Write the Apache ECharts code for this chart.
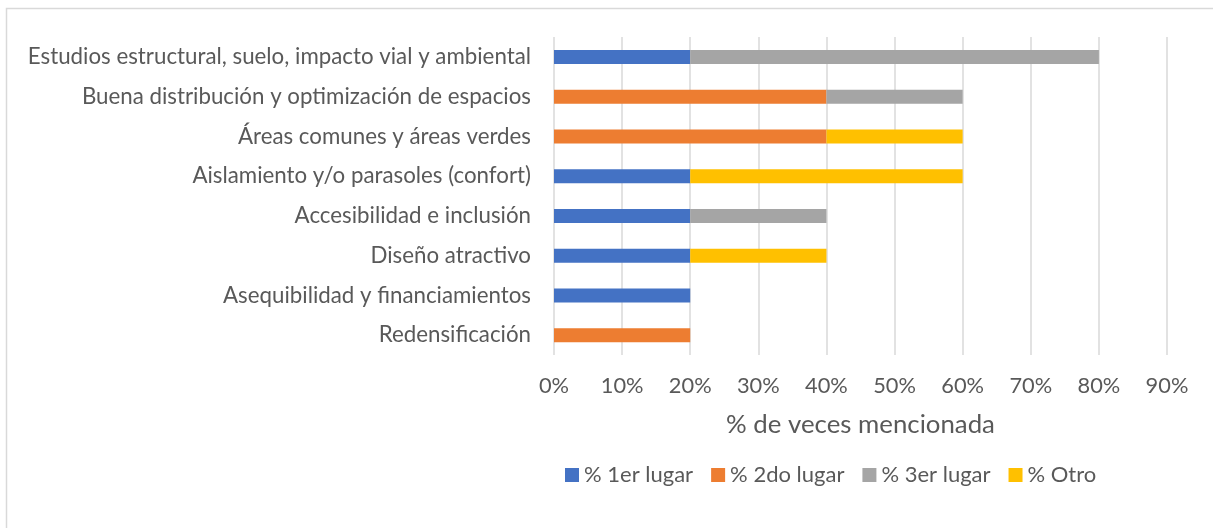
<!DOCTYPE html>
<html>
<head>
<meta charset="utf-8">
<script src="https://cdn.jsdelivr.net/npm/echarts@6/dist/echarts.min.js"></script>
<style>
  html, body { margin: 0; padding: 0; background: #fff; }
  #chart { width: 1213px; height: 528px; }
</style>
</head>
<body>
<div id="chart"></div>
<script>
// Aspects mentioned, listed top to bottom
const categories = [
  'Estudios estructural, suelo, impacto vial y ambiental',
  'Buena distribución y optimización de espacios',
  'Áreas comunes y áreas verdes',
  'Aislamiento y/o parasoles (confort)',
  'Accesibilidad e inclusión',
  'Diseño atractivo',
  'Asequibilidad y financiamientos',
  'Redensificación'
];
const seriesNames = ['% 1er lugar', '% 2do lugar', '% 3er lugar', '% Otro'];
// Share of mentions (%) per ranking position
const primerLugar = [20, 0, 0, 20, 20, 20, 20, 0];
const segundoLugar = [0, 40, 40, 0, 0, 0, 0, 20];
const tercerLugar = [60, 20, 0, 0, 20, 0, 0, 0];
const otro = [0, 0, 20, 40, 0, 20, 0, 0];
const axisTitle = '% de veces mencionada';

const colors = ['#4472C4', '#ED7D31', '#A5A5A5', '#FFC000'];
const FONT = 'Lato';
const TEXT = '#595959';

const chart = echarts.init(document.getElementById('chart'), null, { renderer: 'canvas' });

const seriesData = [primerLugar, segundoLugar, tercerLugar, otro];

chart.setOption({
  animation: false,
  color: colors,
  textStyle: { fontFamily: FONT },
  graphic: [{
    type: 'rect',
    shape: { x: 6.5, y: 8.5, width: 1230, height: 540 },
    style: { fill: 'none', stroke: '#d9d9d9', lineWidth: 1.5 },
    silent: true,
    z: -10
  }],
  grid: { left: 554, right: 46, top: 37, height: 318, containLabel: false },
  legend: {
    data: seriesNames,
    left: 560,
    top: 459,
    itemWidth: 14,
    itemHeight: 14,
    itemGap: 18,
    icon: 'rect',
    textStyle: { color: TEXT, fontSize: 22, fontFamily: FONT }
  },
  xAxis: {
    type: 'value',
    min: 0,
    max: 90,
    interval: 10,
    axisLine: { show: false },
    axisTick: { show: false },
    splitLine: { lineStyle: { color: '#d9d9d9', width: 1.5 } },
    axisLabel: { formatter: '{value}%', color: TEXT, fontSize: 21.8, fontFamily: FONT, margin: 20 },
    name: axisTitle,
    nameLocation: 'middle',
    nameGap: 57,
    nameTextStyle: { color: TEXT, fontSize: 25.8, fontFamily: FONT }
  },
  yAxis: {
    type: 'category',
    data: categories,
    inverse: true,
    axisLine: { show: false },
    axisTick: { show: false },
    splitLine: { show: false },
    axisLabel: { color: TEXT, fontSize: 22.3, fontFamily: FONT, margin: 23 }
  },
  series: seriesNames.map((name, i) => ({
    name,
    type: 'bar',
    stack: 'total',
    barWidth: 14,
    data: seriesData[i],
    itemStyle: { color: colors[i] }
  }))
});
</script>
</body>
</html>
